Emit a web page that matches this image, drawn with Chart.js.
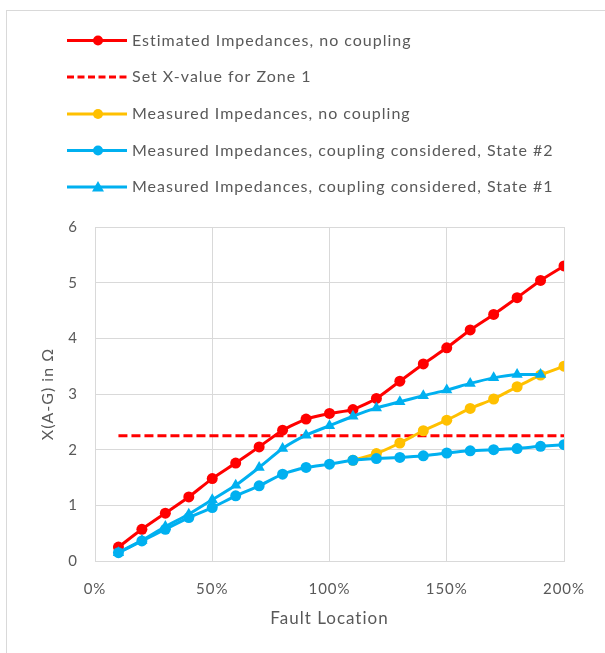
<html lang="en">
  <head>
    <meta charset="UTF-8" />
    <script src="https://cdn.jsdelivr.net/npm/chart.js"></script>
    <title>Fault Location Impedances</title>
    <style>
      body { margin: 0; background: #fff; overflow: hidden; }
      #frame { position: absolute; left: 6px; top: 10px; width: 700px; height: 700px; border: 1px solid #d9d9d9; }
      #wrap { position: absolute; left: 0; top: 0; width: 605px; height: 653px; }
    </style>
  </head>
  <body>
    <div id="frame"></div>
    <div id="wrap"><canvas id="chart" width="605" height="653"></canvas></div>
    <script>
      // fault location in % of line length
      const locations = [10, 20, 30, 40, 50, 60, 70, 80, 90, 100, 110, 120, 130, 140, 150, 160, 170, 180, 190, 200];

      const estimatedNoCoupling = [0.25, 0.57, 0.86, 1.15, 1.48, 1.76, 2.05, 2.35, 2.55, 2.65, 2.72, 2.92, 3.23, 3.54, 3.83, 4.15, 4.43, 4.73, 5.04, 5.30];
      const zone1Setting = [2.25, 2.25, 2.25, 2.25, 2.25, 2.25, 2.25, 2.25, 2.25, 2.25, 2.25, 2.25, 2.25, 2.25, 2.25, 2.25, 2.25, 2.25, 2.25, 2.25];
      const measuredNoCoupling = [null, null, null, null, null, null, null, null, null, null, 1.81, 1.93, 2.12, 2.34, 2.53, 2.74, 2.91, 3.13, 3.34, 3.50];
      const measuredState2 = [0.15, 0.36, 0.57, 0.78, 0.96, 1.17, 1.35, 1.56, 1.68, 1.74, 1.81, 1.84, 1.86, 1.89, 1.94, 1.98, 2.00, 2.02, 2.06, 2.09];
      const measuredState1 = [0.15, 0.37, 0.62, 0.84, 1.10, 1.36, 1.68, 2.02, 2.26, 2.43, 2.60, 2.75, 2.86, 2.97, 3.07, 3.19, 3.29, 3.35, 3.35, null];

      const yTicks = [0, 1, 2, 3, 4, 5, 6];
      const xTicks = [0, 50, 100, 150, 200];

      const RED = '#ff0000';
      const ORANGE = '#ffc000';
      const BLUE = '#00b0f0';
      const TEXT = '#595959';
      const GRID = '#d9d9d9';
      const FONT = 'Lato, "Open Sans", sans-serif';

      function points(values) {
        return locations.map((x, i) => ({ x: x, y: values[i] }));
      }

      // the original text is rendered a bit loose, so widen all canvas text
      const spacing = {
        id: 'spacing',
        beforeUpdate(chart) { chart.ctx.letterSpacing = '1px'; },
        beforeDraw(chart) { chart.ctx.letterSpacing = '1px'; }
      };

      // legend drawn as one left-aligned column above the plot
      const columnLegend = {
        id: 'columnLegend',
        afterDraw(chart) {
          const ctx = chart.ctx;
          const rows = [40.5, 77, 114, 150.5, 187];
          chart.data.datasets.forEach((ds, i) => {
            const y = rows[i];
            ctx.save();
            ctx.strokeStyle = ds.borderColor;
            ctx.lineWidth = 3;
            ctx.setLineDash(ds.borderDash ? [7, 3.5] : []);
            ctx.beginPath();
            ctx.moveTo(67, y);
            ctx.lineTo(127, y);
            ctx.stroke();
            ctx.setLineDash([]);
            if (ds.pointRadius > 0) {
              ctx.fillStyle = ds.borderColor;
              ctx.beginPath();
              if (ds.pointStyle === 'triangle') {
                ctx.moveTo(98, y - 6);
                ctx.lineTo(104, y + 4.5);
                ctx.lineTo(92, y + 4.5);
                ctx.closePath();
              } else {
                ctx.arc(98, y, 5, 0, Math.PI * 2);
              }
              ctx.fill();
            }
            ctx.fillStyle = TEXT;
            ctx.font = '16px ' + FONT;
            ctx.letterSpacing = '1px';
            ctx.textBaseline = 'middle';
            ctx.fillText(ds.label, 132, y);
            ctx.restore();
          });
        }
      };

      function lineSet(label, values, color, order, extra) {
        return Object.assign({
          label: label,
          data: points(values),
          borderColor: color,
          backgroundColor: color,
          pointBackgroundColor: color,
          pointBorderColor: color,
          borderWidth: 3,
          pointRadius: 5.5,
          pointBorderWidth: 0,
          pointStyle: 'circle',
          tension: 0.2,
          spanGaps: false,
          order: order
        }, extra || {});
      }

      new Chart(document.getElementById('chart'), {
        type: 'line',
        data: {
          datasets: [
            lineSet('Estimated Impedances, no coupling', estimatedNoCoupling, RED, 5),
            lineSet('Set X-value for Zone 1', zone1Setting, RED, 4, { borderDash: [9, 4], pointRadius: 0, tension: 0 }),
            lineSet('Measured Impedances, no coupling', measuredNoCoupling, ORANGE, 3),
            lineSet('Measured Impedances, coupling considered, State #2', measuredState2, BLUE, 2),
            lineSet('Measured Impedances, coupling considered, State #1', measuredState1, BLUE, 1, { pointStyle: 'triangle', pointRadius: 6.5 })
          ]
        },
        plugins: [spacing, columnLegend],
        options: {
          responsive: false,
          animation: false,
          layout: { padding: { left: 20, top: 227, right: 41, bottom: 0 } },
          plugins: {
            legend: { display: false },
            tooltip: { enabled: false }
          },
          scales: {
            x: {
              type: 'linear',
              min: 0,
              max: 200,
              afterBuildTicks(scale) { scale.ticks = xTicks.map(v => ({ value: v })); },
              afterFit(scale) { scale.height = 92; },
              grid: { color: GRID, lineWidth: 1, drawTicks: false },
              border: { color: GRID },
              ticks: { color: TEXT, font: { family: FONT, size: 15 }, padding: 19, callback: v => v + '%' },
              title: { display: true, text: 'Fault Location', color: TEXT, font: { family: FONT, size: 17 }, padding: { top: 0, bottom: 24 } }
            },
            y: {
              min: 0,
              max: 6,
              afterBuildTicks(scale) { scale.ticks = yTicks.map(v => ({ value: v })); },
              afterFit(scale) { scale.width = 75; },
              grid: { color: GRID, lineWidth: 1, drawTicks: false },
              border: { color: GRID },
              ticks: { color: TEXT, font: { family: FONT, size: 15 }, padding: 17 },
              title: { display: true, text: 'X(A-G) in Ω', color: TEXT, font: { family: FONT, size: 16 }, padding: { top: 18, bottom: 0 } }
            }
          }
        }
      });
    </script>
  </body>
</html>
